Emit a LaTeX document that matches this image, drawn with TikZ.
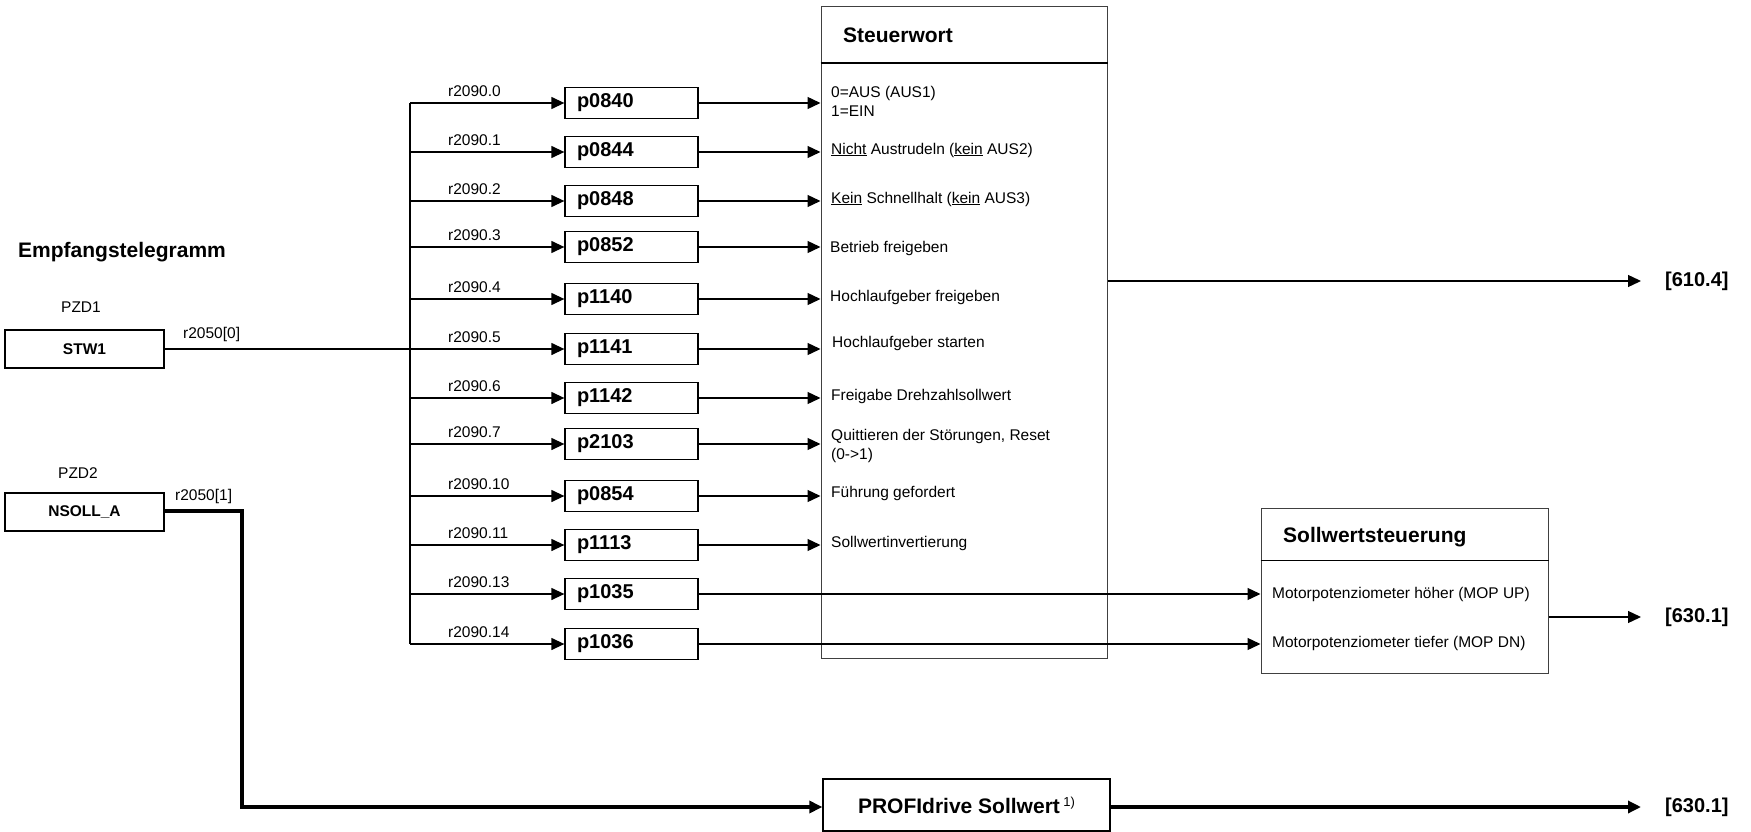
\documentclass[tikz,border=0pt]{standalone}
\usepackage{fontspec}
\setmainfont{Liberation Sans}
\usetikzlibrary{arrows.meta}
\begin{document}
\begin{tikzpicture}[x=1pt,y=-1pt,
  sm/.style={font=\fontsize{15.5}{19.5}\selectfont, inner sep=0pt, align=left},
  bigb/.style={font=\fontsize{21}{24}\selectfont\bfseries, inner sep=0pt},
  refl/.style={font=\fontsize{20}{23}\selectfont\bfseries, inner sep=0pt, anchor=west},
  pbox/.style={draw, line width=1.3pt, minimum width=133pt, minimum height=31pt,
    inner xsep=12pt, inner ysep=0pt, text width=109pt, align=left,
    font=\fontsize{20}{22}\selectfont\bfseries},
  inbox/.style={draw, line width=1.3pt, minimum width=159pt, minimum height=38pt,
    inner sep=0pt, font=\fontsize{15.5}{18}\selectfont\bfseries},
  frame/.style={draw=black!75, line width=1pt, inner sep=0pt},
  arr/.style={line width=1.3pt, -{Triangle[length=13pt,width=12pt]}},
  thickarr/.style={line width=3.2pt, -{Triangle[length=13pt,width=12pt]}}]
\useasboundingbox (0,0) rectangle (1751,832);

% left inputs
\node[bigb, anchor=west] (empf) at (18,252) {Empfangstelegramm};
\node[sm] (pzd1) at (81,307) {PZD1};
\node[inbox] (stw) at (84.5,349) {STW1};
\node[sm, anchor=west] (r20500) at (183,334) {r2050[0]};
\node[sm] (pzd2) at (78,473) {PZD2};
\node[inbox] (nsoll) at (84.5,512) {NSOLL\_A};
\node[sm, anchor=west] (r20501) at (175,496) {r2050[1]};

% Steuerwort box
\node[frame, minimum width=286pt, minimum height=651pt] (swbox) at (964,332.5) {};
\draw[line width=1.3pt] (swbox.west |- 0,63) -- (swbox.east |- 0,63);
\node[bigb, anchor=west] (swt) at (843,35) {Steuerwort};

% Sollwertsteuerung box
\node[frame, minimum width=287pt, minimum height=165pt] (scbox) at (1404.5,590.5) {};
\draw[line width=1pt] (scbox.west |- 0,560) -- (scbox.east |- 0,560);
\node[bigb, anchor=west] (sct) at (1283,537) {Sollwertsteuerung};
\node[sm, anchor=west] (mopup) at (1272,594) {Motorpotenziometer höher (MOP UP)};
\node[sm, anchor=west] (mopdn) at (1272,643) {Motorpotenziometer tiefer (MOP DN)};

% PROFIdrive box
\node[draw, line width=1.3pt, minimum width=287pt, minimum height=52pt, inner sep=0pt,
  font=\fontsize{21}{24}\selectfont\bfseries] (profi) at (966.5,805)
  {PROFIdrive Sollwert\,\raisebox{7pt}{\fontsize{13}{14}\selectfont\mdseries 1)}};

% bus
\coordinate (bustop) at (410,103);
\coordinate (busbot) at (410,644);
\draw[line width=1.3pt] (bustop) -- (busbot);

\foreach \n/\yy/\lab/\pp in {a/103/0/p0840, b/152/1/p0844, c/201/2/p0848, d/247/3/p0852,
  e/299/4/p1140, f/349/5/p1141, g/398/6/p1142, h/444/7/p2103, i/496/10/p0854,
  j/545/11/p1113, k/594/13/p1035, l/644/14/p1036}{
  \node[pbox] (par\n) at (631.5,\yy) {\pp};
  \node[sm, anchor=west] (lab\n) at (448,\yy-12) {r2090.\lab};
  \coordinate (bus\n) at (410,\yy);
  \draw[arr] (bus\n) -- (par\n.west);
}
\foreach \n in {a,b,c,d,e,f,g,h,i,j}{
  \draw[arr] (par\n.east) -- (swbox.west |- par\n.east);
}
\draw[arr] (park.east) -- (scbox.west |- park.east);
\draw[arr] (parl.east) -- (scbox.west |- parl.east);

% texts in Steuerwort
\node[sm, anchor=west] (txa) at (831,101.5) {0=AUS (AUS1)\\1=EIN};
\node[sm, anchor=west] (txb) at (831,150) {\underline{Nicht} Austrudeln (\underline{kein} AUS2)};
\node[sm, anchor=west] (txc) at (831,199) {\underline{Kein} Schnellhalt (\underline{kein} AUS3)};
\node[sm, anchor=west] (txd) at (830,248) {Betrieb freigeben};
\node[sm, anchor=west] (txe) at (830,297) {Hochlaufgeber freigeben};
\node[sm, anchor=west] (txf) at (832,343) {Hochlaufgeber starten};
\node[sm, anchor=west] (txg) at (831,396) {Freigabe Drehzahlsollwert};
\node[sm, anchor=west] (txh) at (831,446) {Quittieren der Störungen, Reset\\(0->1)};
\node[sm, anchor=west] (txi) at (831,493) {Führung gefordert};
\node[sm, anchor=west] (txj) at (831,543) {Sollwertinvertierung};

% STW1 connection
\draw[line width=1.3pt] (stw.east) -- (parf.west -| bustop);

% NSOLL path
\coordinate (nbend1) at (242,511);
\coordinate (nbend2) at (242,807);
\draw[thickarr] (nsoll.east |- nbend1) -- (nbend1) -- (nbend2) -- (profi.west |- nbend2);

% outputs
\coordinate (o1) at (1641,281);
\coordinate (o2) at (1641,617);
\coordinate (o3) at (1641,807);
\draw[arr] (swbox.east |- o1) -- (o1);
\draw[arr] (scbox.east |- o2) -- (o2);
\draw[thickarr] (profi.east |- o3) -- (o3);
\node[refl] (ref1) at (1665,281) {[610.4]};
\node[refl] (ref2) at (1665,617) {[630.1]};
\node[refl] (ref3) at (1665,807) {[630.1]};
\end{tikzpicture}
\end{document}
